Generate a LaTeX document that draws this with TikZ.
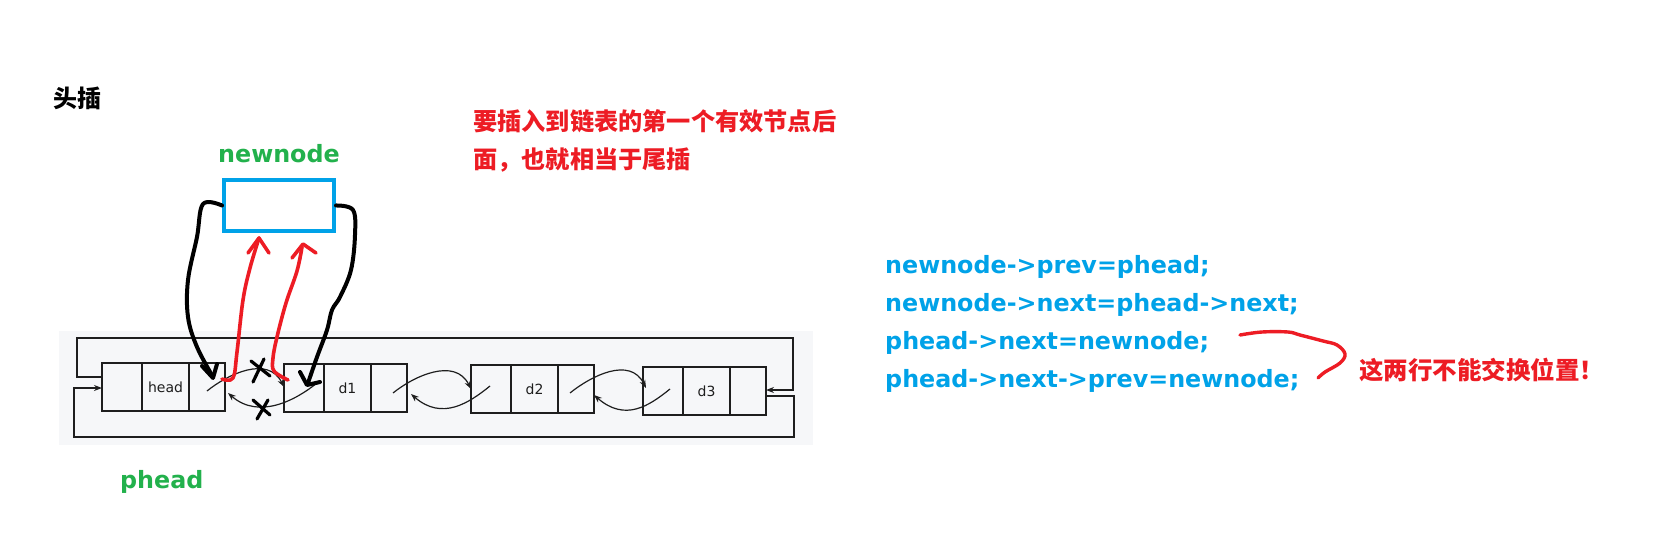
\documentclass[tikz,border=0pt]{standalone}
\usepackage{fontspec}
\setmainfont{DejaVu Sans}
\newfontfamily\cjk{Noto Sans CJK SC}
\usetikzlibrary{arrows.meta}
\definecolor{pred}{RGB}{237,28,36}
\definecolor{pgreen}{RGB}{34,177,76}
\definecolor{pblue}{RGB}{0,162,232}
\definecolor{bgg}{RGB}{246,247,249}
\definecolor{ink}{RGB}{30,30,30}
\begin{document}
\begin{tikzpicture}[x=1pt,y=-1pt,
  cell/.style={draw=ink, line width=1.5pt, minimum height=48pt, inner sep=0pt, outer sep=0pt},
  ca/.style={cell, minimum width=40pt},
  cb/.style={cell, minimum width=47pt, font=\fontsize{14}{16}\selectfont, text=ink},
  cc/.style={cell, minimum width=36pt},
  ptr/.style={draw=ink, line width=1.2pt, -{Stealth[length=8pt,width=6pt]}},
  loopline/.style={draw=ink, line width=1.3pt},
  hand/.style={line width=4pt, line cap=round, line join=round},
  codeline/.style={anchor=base west, inner sep=0pt, text=pblue, font=\fontsize{23.8}{28}\selectfont\bfseries},
  glabel/.style={anchor=base west, inner sep=0pt, text=pgreen, font=\fontsize{23.8}{28}\selectfont\bfseries},
  redtext/.style={anchor=west, inner sep=0pt, text=pred, font=\cjk\bfseries\fontsize{24.2}{30}\selectfont},
]
\useasboundingbox (0,0) rectangle (1653,543);
\fill[white] (0,0) rectangle (1653,543);
\fill[bgg] (59,331) rectangle (813,445);

% title
\node[anchor=west, inner sep=0pt, font=\cjk\bfseries\fontsize{24}{28}\selectfont] (title) at (53,98) {头插};
\node[redtext] (note1) at (473,121) {要插入到链表的第一个有效节点后};
\node[redtext] (note2) at (473,160) {面，也就相当于尾插};

% newnode
\node[glabel] (nnlabel) at (218,162) {newnode};
\node[draw=pblue, line width=4pt, minimum width=110pt, minimum height=51pt, inner sep=0pt] (nn) at (279,205.5) {};

% list nodes
\node[ca] (hA) at (122,387) {};
\node[cb] (hB) at (165.5,387) {head};
\node[cc] (hC) at (207,387) {};
\node[ca] (aA) at (304,388) {};
\node[cb] (aB) at (347.5,388) {d1};
\node[cc] (aC) at (389,388) {};
\node[ca] (bA) at (491,389) {};
\node[cb] (bB) at (534.5,389) {d2};
\node[cc] (bC) at (576,389) {};
\node[ca] (cA) at (663,391) {};
\node[cb] (cB) at (706.5,391) {d3};
\node[cc] (cC) at (748,391) {};

\node[glabel] (pheadlabel) at (120,488) {phead};

% loops
\draw[loopline, -{Stealth[length=8pt,width=6pt]}] ([yshift=10pt]hA.west) -- (77,377) -- (77,338) -- (793,338) -- (793,390) -- ([yshift=1pt]cC.east);
\draw[loopline, -{Stealth[length=8pt,width=6pt]}] ([yshift=-5pt]cC.east) -- (794,396) -- (794,437) -- (74,437) -- (74,388) -- ([yshift=-1pt]hA.west);

% next pointers
\draw[ptr] ([yshift=-4pt]hC.center) .. controls +(21,-17) and +(-16,-32) .. ([yshift=1pt]aA.west);
\draw[ptr] ([xshift=4pt,yshift=-5pt]aC.center) .. controls +(21,-17) and +(-16,-32) .. (bA.west);
\draw[ptr] ([xshift=-6pt,yshift=-4pt]bC.center) .. controls +(21,-17) and +(-16,-32) .. ([xshift=3pt,yshift=3pt]cA.west);
% prev pointers
\draw[ptr] ([xshift=13pt,yshift=5pt]aA.center) .. controls +(-21,17) and +(31,27) .. ([xshift=3pt,yshift=-6pt]hC.east);
\draw[ptr] ([xshift=-1pt,yshift=3pt]bA.center) .. controls +(-21,17) and +(31,27) .. ([xshift=4pt,yshift=-6pt]aC.east);
\draw[ptr] ([xshift=7pt,yshift=2pt]cA.center) .. controls +(-21,17) and +(31,27) .. ([yshift=-6pt]bC.east);

% hand-drawn black strokes
\draw[hand, black] plot[smooth, tension=0.6] coordinates {(nn.west) (203,204) (197,237) (188,280) (188,317) (197,347) (213,377)};
\draw[hand, black] (202,366) -- (213,378) -- (217,364);
\draw[hand, black] plot[smooth, tension=0.6] coordinates {(nn.east) (353,210) (355,235) (351,270) (340,297) (332,310) (327,330) (317,357) (308,383)};
\draw[hand, black] (300,372) -- (307,385) -- (320,382);
% crosses
\draw[hand, black, line width=3.2pt] (251,361) -- (270,376) (264,359) -- (253,382);
\draw[hand, black, line width=3.2pt] (253,400) -- (270,415) (268,400) -- (257,419);

% red strokes
\draw[hand, pred, line width=3.6pt] plot[smooth, tension=0.6] coordinates {(222,379) (233,378) (237,352) (243,300) (250,268) (259,238)};
\draw[hand, pred, line width=3.6pt] (248,253) -- (259,238) -- (269,253);
\draw[hand, pred, line width=3.6pt] plot[smooth, tension=0.6] coordinates {(288,380) (274,371) (273,358) (277,337) (286,303) (297,271) (302,247)};
\draw[hand, pred, line width=3.6pt] (292,258) -- (303,244) -- (316,253);

% code
\node[codeline] (l1) at (885,273) {newnode->prev=phead;};
\node[codeline] (l2) at (885,311) {newnode->next=phead->next;};
\node[codeline] (l3) at (885,349) {phead->next=newnode;};
\node[codeline] (l4) at (885,387) {phead->next->prev=newnode;};

\draw[hand, pred, line width=3.4pt] plot[smooth, tension=0.6] coordinates {(1240,335) (1262,332) (1288,332) (1300,335) (1323,341) (1337,345) (1345,354) (1340,363) (1325,372) (1318,378)};
\node[anchor=west, inner sep=0pt, text=pred, font=\cjk\bfseries\fontsize{24.5}{28}\selectfont] (warn) at (1359,370) {这两行不能交换位置！};
\end{tikzpicture}
\end{document}
